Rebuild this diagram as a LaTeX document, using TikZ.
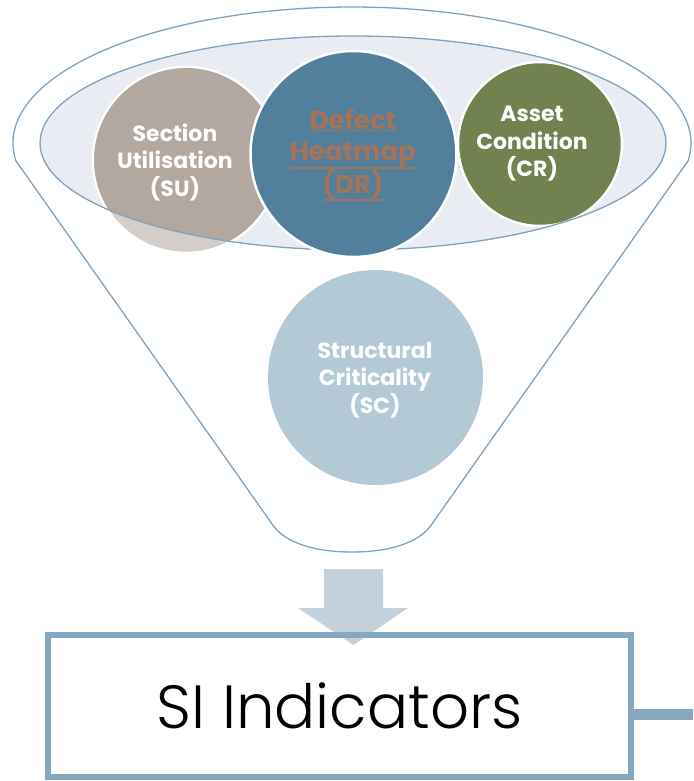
\documentclass[tikz,border=0pt]{standalone}
\usepackage{fontspec}
\setmainfont{Poppins}
\newfontfamily\lightfont{Poppins Light}
\definecolor{outl}{HTML}{7FA3BF}
\definecolor{innerfill}{HTML}{E9EDF3}
\definecolor{sudark}{HTML}{B3A8A0}
\definecolor{sulight}{HTML}{D5CDC9}
\definecolor{drblue}{HTML}{527F9C}
\definecolor{crgreen}{HTML}{71814F}
\definecolor{scblue}{HTML}{B3C9D6}
\definecolor{arrowc}{HTML}{C3D1DC}
\definecolor{boxc}{HTML}{87A7BE}
\definecolor{drtext}{HTML}{A57357}
\newcommand\thul[1]{\setbox0\hbox{#1}\rlap{\rule[-\dimexpr\dp0+2pt\relax]{\wd0}{1.8pt}}\box0}
\begin{document}
\begin{tikzpicture}[x=1pt,y=-1pt,
  outline/.style={draw=outl, line width=1.3pt, line join=round},
  bubble/.style={circle, draw=white, line width=2.5pt, inner sep=0pt},
  lbl/.style={font=\fontsize{22}{27.5}\selectfont\bfseries, text=white, align=center, inner sep=0pt},
  drlbl/.style={font=\fontsize{26}{31}\selectfont\bfseries, text=drtext, align=center, inner sep=0pt},
]
\useasboundingbox (0,0) rectangle (693,781);
% funnel outline
\draw[outline] (16,161) coordinate (fl)
  arc[start angle=172.4, end angle=367.6, x radius=339, y radius=136] coordinate (fr)
  -- (434,521) coordinate (br)
  .. controls (420,545) and (385,552) .. (352,552)
  .. controls (319,552) and (284,545) .. (270,521) coordinate (bl)
  -- cycle;
% inner ellipse fill
\fill[innerfill] (353,143) ellipse[x radius=313, y radius=107];
% structural criticality
\node[circle, fill=scblue, minimum size=215pt, inner sep=0pt] (sc) at (375.5,377.5) {};
% section utilisation
\node[bubble, fill=sulight, minimum size=186pt] (su) at (186,160) {};
\begin{scope}
  \clip (353,143) ellipse[x radius=313, y radius=107];
  \fill[sudark] (186,160) circle[radius=92];
\end{scope}
% asset condition
\node[bubble, fill=crgreen, minimum size=164pt] (cr) at (540,144) {};
% inner ellipse border
\draw[draw=outl, line width=1.3pt] (353,143) ellipse[x radius=313, y radius=107];
% defect heatmap
\node[bubble, fill=drblue, minimum size=206pt] (dr) at (353.5,154) {};
% labels
\node[lbl] (sut) at (175,162) {Section\\Utilisation\\(SU)};
\node[lbl] (crt) at (532,144) {Asset\\Condition\\(CR)};
\node[lbl] (sct) at (375,380) {Structural\\Criticality\\(SC)};
\node[drlbl] (drt) at (353,155) {\thul{Defect}\\\thul{Heatmap}\\\thul{(DR)}};
% arrow
\fill[arrowc] (324,569) -- (383,569) -- (383,608) -- (408,608) -- (353.5,645)
  -- (298,608) -- (324,608) -- cycle;
% SI box
\node[draw=boxc, line width=6pt, minimum width=583pt, minimum height=142pt, inner sep=0pt,
  font=\lightfont\fontsize{61}{70}\selectfont] (si) at (339.5,706) {SI Indicators};
\coordinate (rt) at (693,714.5);
\draw[draw=boxc, line width=11pt] (si.east |- rt) -- (rt);
\end{tikzpicture}
\end{document}
